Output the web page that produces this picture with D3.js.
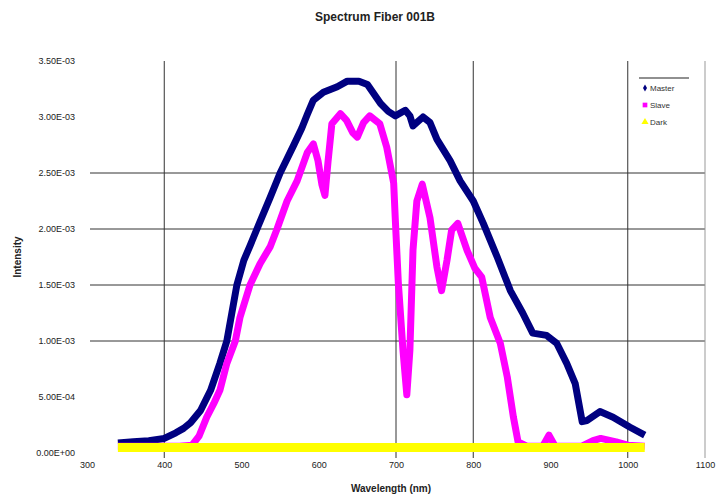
<!DOCTYPE html>
<html>
<head>
<meta charset="utf-8">
<script src="https://cdn.jsdelivr.net/npm/d3@7"></script>
<style>
  html, body { margin: 0; padding: 0; background: #fff; }
  svg { display: block; font-family: "Liberation Sans", Arial, sans-serif; }
</style>
</head>
<body>
<script>
// wavelength (nm), intensity
const master = [
  [340, 0.09e-3], [360, 0.10e-3], [380, 0.11e-3], [400, 0.13e-3], [415, 0.18e-3],
  [425, 0.22e-3], [434, 0.27e-3], [447, 0.38e-3], [460, 0.56e-3], [472, 0.80e-3],
  [481, 1.00e-3], [494, 1.50e-3], [503, 1.72e-3], [511, 1.85e-3], [520, 2.00e-3],
  [537, 2.28e-3], [550, 2.50e-3], [567, 2.74e-3], [578, 2.90e-3], [585, 3.02e-3],
  [593, 3.15e-3], [606, 3.22e-3], [624, 3.27e-3], [637, 3.32e-3], [652, 3.32e-3],
  [663, 3.29e-3], [680, 3.12e-3], [690, 3.05e-3], [699, 3.01e-3], [712, 3.06e-3],
  [718, 3.01e-3], [722, 2.92e-3], [735, 3.00e-3], [744, 2.95e-3], [753, 2.80e-3],
  [770, 2.61e-3], [783, 2.43e-3], [800, 2.25e-3], [813, 2.05e-3], [831, 1.75e-3],
  [848, 1.45e-3], [864, 1.25e-3], [877, 1.07e-3], [895, 1.05e-3], [908, 0.98e-3],
  [921, 0.80e-3], [932, 0.62e-3], [941, 0.28e-3], [947, 0.29e-3], [964, 0.37e-3],
  [981, 0.32e-3], [1003, 0.23e-3], [1022, 0.16e-3]
];

const slave = [
  [340, 0.06e-3], [380, 0.06e-3], [420, 0.06e-3], [436, 0.07e-3], [445, 0.15e-3],
  [455, 0.32e-3], [464, 0.44e-3], [472, 0.56e-3], [481, 0.80e-3], [492, 1.00e-3],
  [498, 1.21e-3], [511, 1.50e-3], [524, 1.69e-3], [537, 1.84e-3], [546, 2.00e-3],
  [559, 2.25e-3], [572, 2.43e-3], [585, 2.68e-3], [593, 2.76e-3], [599, 2.61e-3],
  [604, 2.40e-3], [608, 2.30e-3], [612, 2.60e-3], [617, 2.94e-3], [628, 3.03e-3],
  [636, 2.97e-3], [644, 2.86e-3], [650, 2.82e-3], [658, 2.95e-3], [666, 3.01e-3],
  [679, 2.94e-3], [688, 2.73e-3], [697, 2.41e-3], [699, 2.10e-3], [703, 1.52e-3],
  [709, 0.92e-3], [714, 0.52e-3], [718, 0.92e-3], [722, 1.81e-3], [727, 2.25e-3],
  [734, 2.40e-3], [744, 2.10e-3], [753, 1.66e-3], [759, 1.45e-3], [766, 1.72e-3],
  [772, 1.99e-3], [780, 2.05e-3], [792, 1.81e-3], [802, 1.65e-3], [811, 1.57e-3],
  [822, 1.21e-3], [835, 0.98e-3], [844, 0.68e-3], [852, 0.32e-3], [858, 0.10e-3],
  [870, 0.06e-3], [890, 0.06e-3], [898, 0.16e-3], [906, 0.06e-3], [940, 0.06e-3],
  [955, 0.11e-3], [965, 0.13e-3], [985, 0.10e-3], [1000, 0.07e-3], [1022, 0.06e-3]
];

const dark = [
  [340, 0.05e-3], [500, 0.05e-3], [700, 0.05e-3], [900, 0.05e-3], [1022, 0.05e-3]
];

const xTicks = [300, 400, 500, 600, 700, 800, 900, 1000, 1100];
const yTicks = [0, 0.5e-3, 1.0e-3, 1.5e-3, 2.0e-3, 2.5e-3, 3.0e-3, 3.5e-3];
// only these grid lines show in the picture
const xGrid = [400, 700, 800, 1000, 1100];
const yGrid = [1.0e-3, 1.5e-3, 2.0e-3, 2.5e-3];

const series = [
  { name: 'Master', data: master, color: '#000080', width: 7 },
  { name: 'Slave', data: slave, color: '#ff00ff', width: 7 },
  { name: 'Dark', data: dark, color: '#ffff00', width: 9 }
];

const
  W = 716,
  H = 496,
  plotLeft = 87,
  plotRight = 705,
  plotTop = 61,
  plotBottom = 453;

const x = d3.scaleLinear().domain([300, 1100]).range([plotLeft, plotRight]);
const y = d3.scaleLinear().domain([0, 3.5e-3]).range([plotBottom, plotTop]);

// excel style 3.50E-03
function sci (v) {
  if (v === 0) return '0.00E+00';
  let [m, e] = v.toExponential(2).split('e');
  let sign = e[0] === '-' ? '-' : '+';
  e = e.replace(/[+-]/, '');
  return m + 'E' + sign + e.padStart(2, '0');
}

const svg = d3.select('body').append('svg')
  .attr('width', W)
  .attr('height', H);

svg.append('rect').attr('width', W).attr('height', H).attr('fill', '#fff');

// grid
svg.append('g')
  .selectAll('line')
  .data(yGrid)
  .enter()
  .append('line')
  .attr('x1', plotLeft + 3).attr('x2', plotRight)
  .attr('y1', (d) => y(d)).attr('y2', (d) => y(d))
  .attr('stroke', '#333').attr('stroke-width', 1);

svg.append('g')
  .selectAll('line')
  .data(xGrid)
  .enter()
  .append('line')
  .attr('x1', (d) => x(d)).attr('x2', (d) => x(d))
  .attr('y1', plotTop).attr('y2', plotBottom + 5)
  .attr('stroke', (d) => d === 1100 ? '#999' : '#333')
  .attr('stroke-width', 1);

// axes labels via d3 axes, no lines
const xAxis = svg.append('g')
  .attr('transform', `translate(0, ${plotBottom + 6})`)
  .call(d3.axisBottom(x).tickValues(xTicks).tickSize(0).tickFormat(d3.format('d')));
xAxis.select('.domain').remove();
xAxis.selectAll('text')
  .attr('font-family', '"Liberation Sans", Arial, sans-serif')
  .attr('font-size', 9).attr('fill', '#222');

const yAxis = svg.append('g')
  .attr('transform', `translate(${plotLeft - 9}, 0)`)
  .call(d3.axisLeft(y).tickValues(yTicks).tickSize(0).tickFormat(sci));
yAxis.select('.domain').remove();
yAxis.selectAll('text')
  .attr('font-family', '"Liberation Sans", Arial, sans-serif')
  .attr('font-size', 9).attr('fill', '#222');

// series
const line = d3.line()
  .x((d) => x(d[0]))
  .y((d) => y(d[1]));

svg.append('g')
  .selectAll('path')
  .data(series)
  .enter()
  .append('path')
  .attr('d', (s) => line(s.data))
  .attr('fill', 'none')
  .attr('stroke', (s) => s.color)
  .attr('stroke-width', (s) => s.width)
  .attr('stroke-linejoin', 'round');

// titles
svg.append('text')
  .attr('x', 375).attr('y', 21)
  .attr('text-anchor', 'middle')
  .attr('font-size', 12).attr('font-weight', 'bold').attr('fill', '#222')
  .text('Spectrum Fiber 001B');

svg.append('text')
  .attr('x', 391).attr('y', 492)
  .attr('text-anchor', 'middle')
  .attr('font-size', 10).attr('font-weight', 'bold').attr('fill', '#222')
  .text('Wavelength (nm)');

svg.append('text')
  .attr('transform', 'translate(21, 257) rotate(-90)')
  .attr('text-anchor', 'middle')
  .attr('font-size', 10).attr('font-weight', 'bold').attr('fill', '#222')
  .text('Intensity');

// legend
const legend = svg.append('g').attr('transform', 'translate(639, 78)');
legend.append('line').attr('x1', 0).attr('x2', 50).attr('stroke', '#222').attr('stroke-width', 1.2);

const entries = legend.selectAll('g')
  .data(series)
  .enter()
  .append('g')
  .attr('transform', (s, i) => `translate(0, ${10 + i * 17})`);

entries.append('path')
  .attr('transform', 'translate(6, 0)')
  .attr('d', (s, i) => d3.symbol().type([d3.symbolDiamond, d3.symbolSquare, d3.symbolTriangle][i]).size(i === 0 ? 14 : 22)())
  .attr('fill', (s) => s.color);

entries.append('text')
  .attr('x', 11).attr('y', 3)
  .attr('font-size', 8).attr('fill', '#333')
  .text((s) => s.name);
</script>
</body>
</html>
